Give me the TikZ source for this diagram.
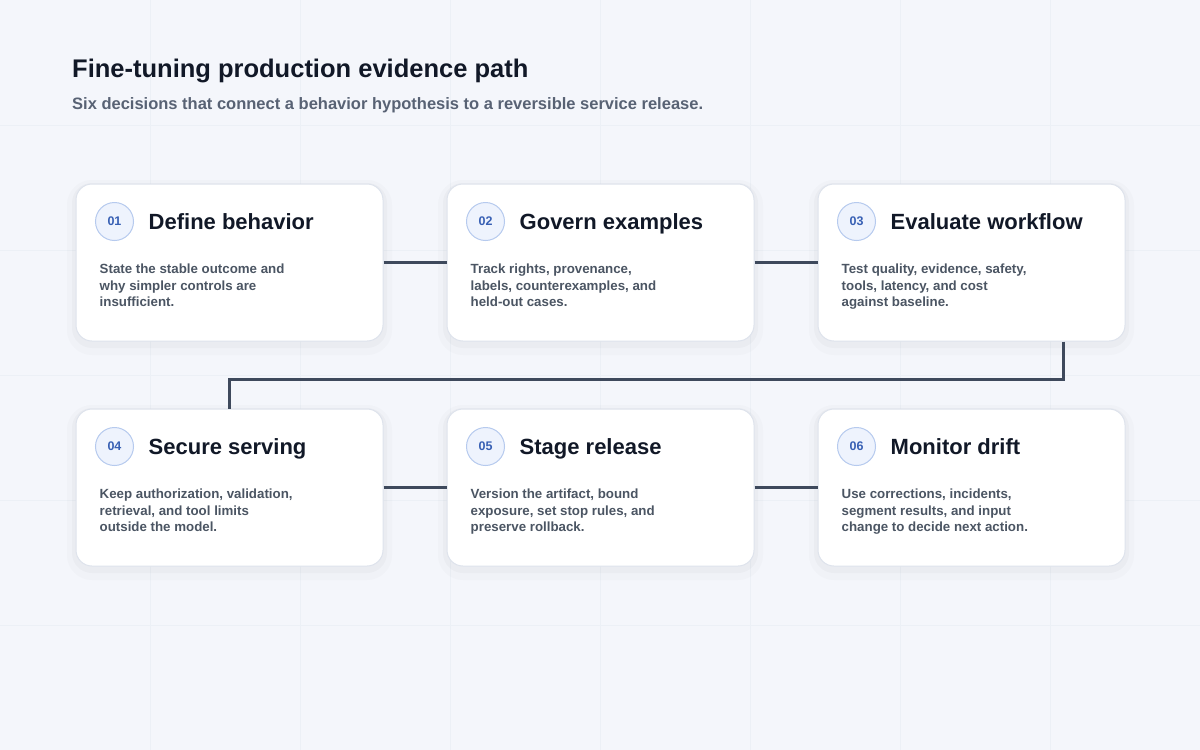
\documentclass[tikz,border=0pt]{standalone}
\usepackage{fontspec}
\setmainfont{Liberation Sans}
\usepackage{xcolor}
\usetikzlibrary{positioning, calc}
\definecolor{pagebg}{RGB}{244,246,251}
\definecolor{gridline}{RGB}{236,240,246}
\definecolor{titleink}{RGB}{17,24,39}
\definecolor{subink}{RGB}{88,98,116}
\definecolor{bodyink}{RGB}{75,85,99}
\definecolor{cardedge}{RGB}{222,227,236}
\definecolor{linkink}{RGB}{62,73,92}
\definecolor{badgefill}{RGB}{238,243,253}
\definecolor{badgeedge}{RGB}{182,202,238}
\definecolor{badgeink}{RGB}{56,96,180}

\tikzset{
  card/.style={rectangle, rounded corners=16pt, minimum width=307pt, minimum height=157pt,
    fill=white, draw=cardedge, line width=1pt,
    preaction={draw=black, opacity=0.015, line width=18pt, transform canvas={yshift=-5pt}},
    preaction={draw=black, opacity=0.025, line width=8pt, transform canvas={yshift=-3pt}}},
  badge/.style={circle, minimum size=38pt, inner sep=0pt, fill=badgefill, draw=badgeedge,
    line width=1pt, text=badgeink, font=\fontsize{12.5pt}{14pt}\selectfont\bfseries},
  steptitle/.style={anchor=base west, inner sep=0pt, text=titleink,
    font=\fontsize{22pt}{25pt}\selectfont\bfseries},
  stepbody/.style={anchor=north west, inner sep=0pt, text=bodyink, align=left,
    font=\fontsize{13.3pt}{16.7pt}\selectfont\bfseries},
  link/.style={draw=linkink, line width=3.5pt}
}

\begin{document}
\begin{tikzpicture}[x=1pt, y=-1pt]
    % Page and faint grid
    \useasboundingbox (0,0) rectangle (1200,750);
    \fill[pagebg] (0,0) rectangle (1200,750);
    \foreach \gx in {150,300,...,1050}
        \draw[gridline, line width=0.8pt] (\gx,0) -- (\gx,750);
    \foreach \gy in {125,250,...,625}
        \draw[gridline, line width=0.8pt] (0,\gy) -- (1200,\gy);

    % Heading
    \node[anchor=base west, inner sep=0pt, text=titleink, font=\fontsize{25.5pt}{28pt}\selectfont\bfseries]
        (title) at (72,77) {Fine-tuning production evidence path};
    \node[anchor=base west, inner sep=0pt, text=subink, font=\fontsize{16.5pt}{19pt}\selectfont\bfseries]
        (subtitle) at (72,109) {Six decisions that connect a behavior hypothesis to a reversible service release.};

    % Cards
    \node[card] (c1) at (229.5,262.5) {};
    \node[card] (c2) at (600.5,262.5) {};
    \node[card] (c3) at (971.5,262.5) {};
    \node[card] (c4) at (229.5,487.5) {};
    \node[card] (c5) at (600.5,487.5) {};
    \node[card] (c6) at (971.5,487.5) {};

    % Connectors
    \coordinate (turn) at ($(c3.south east)+(-62,0)$);
    \draw[link] (c1.east) -- (c2.west);
    \draw[link] (c2.east) -- (c3.west);
    \draw[link] (turn) -- ++(0,38) -| (c4.north);
    \draw[link] (c4.east) -- (c5.west);
    \draw[link] (c5.east) -- (c6.west);

    % Badges, titles and texts
    \node[badge] (b1) at ($(c1.north west)+(39,38)$) {01};
    \node[steptitle] (t1) at ($(c1.north west)+(73,46)$) {Define behavior};
    \node[stepbody] (d1) at ($(c1.north west)+(24,80)$) {State the stable outcome and\\why simpler controls are\\insufficient.};

    \node[badge] (b2) at ($(c2.north west)+(39,38)$) {02};
    \node[steptitle] (t2) at ($(c2.north west)+(73,46)$) {Govern examples};
    \node[stepbody] (d2) at ($(c2.north west)+(24,80)$) {Track rights, provenance,\\labels, counterexamples, and\\held-out cases.};

    \node[badge] (b3) at ($(c3.north west)+(39,38)$) {03};
    \node[steptitle] (t3) at ($(c3.north west)+(73,46)$) {Evaluate workflow};
    \node[stepbody] (d3) at ($(c3.north west)+(24,80)$) {Test quality, evidence, safety,\\tools, latency, and cost\\against baseline.};

    \node[badge] (b4) at ($(c4.north west)+(39,38)$) {04};
    \node[steptitle] (t4) at ($(c4.north west)+(73,46)$) {Secure serving};
    \node[stepbody] (d4) at ($(c4.north west)+(24,80)$) {Keep authorization, validation,\\retrieval, and tool limits\\outside the model.};

    \node[badge] (b5) at ($(c5.north west)+(39,38)$) {05};
    \node[steptitle] (t5) at ($(c5.north west)+(73,46)$) {Stage release};
    \node[stepbody] (d5) at ($(c5.north west)+(24,80)$) {Version the artifact, bound\\exposure, set stop rules, and\\preserve rollback.};

    \node[badge] (b6) at ($(c6.north west)+(39,38)$) {06};
    \node[steptitle] (t6) at ($(c6.north west)+(73,46)$) {Monitor drift};
    \node[stepbody] (d6) at ($(c6.north west)+(24,80)$) {Use corrections, incidents,\\segment results, and input\\change to decide next action.};
\end{tikzpicture}
\end{document}
